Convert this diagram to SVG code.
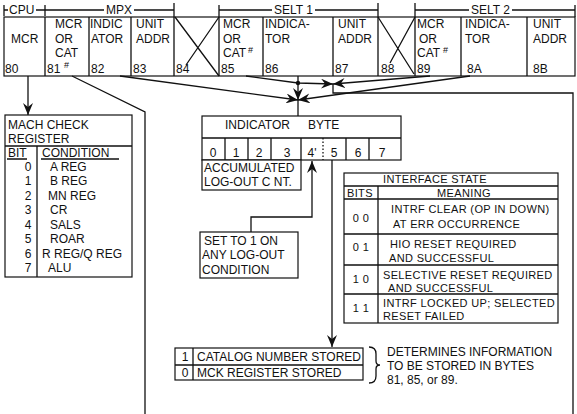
<svg xmlns="http://www.w3.org/2000/svg" width="577" height="414" viewBox="0 0 577 414">
<defs>
<style>
.t{font-family:"Liberation Sans",Arial,sans-serif;font-size:12px;fill:#111}
.s{font-size:9px}
.m{text-anchor:middle}
.r{font-size:11px;letter-spacing:0.35px}
.ln{stroke:#111;stroke-width:1.3;fill:none}
.bx{stroke:#111;stroke-width:1.2;fill:#fff}
</style>
<marker id="ah" viewBox="0 0 12 10" refX="12" refY="5" markerWidth="12" markerHeight="10" markerUnits="userSpaceOnUse" orient="auto">
<path d="M0,0 L12,5 L0,10 L4,5 z" fill="#111"/>
</marker>
</defs>
<rect width="577" height="414" fill="#fff"/>

<g id="header">
<path class="ln" d="M4,5 V16 M4,10 H8 M36,10 H45 M45,5 V16 M45,10 H104 M134,10 H174 M174,3 V17 M219,5 V17 M219,10 H272 M315,10 H378 M378,3 V17 M415,3 V17 M415,10 H469 M512,10 H575 M575,5 V17"/>
<text class="t" x="9" y="14">CPU</text>
<text class="t" x="106" y="14">MPX</text>
<text class="t" x="274" y="14">SELT 1</text>
<text class="t" x="471" y="14">SELT 2</text>
</g>

<g id="register">
<rect class="bx" x="4" y="17" width="571" height="59"/>
<path class="ln" d="M45,17 V76 M89,17 V76 M131,17 V76 M174,17 V76 M219,17 V76 M263,17 V76 M333,17 V76 M378,17 V76 M415,17 V76 M461,17 V76 M527,17 V76"/>
<path class="ln" d="M175,17 L219,76 M219,17 L186,65 M378,17 L414,74 M415,17 L390,63"/>
<text class="t" x="11" y="43">MCR</text><text class="t" x="5" y="73">80</text>
<text class="t" x="55" y="28">MCR</text><text class="t" x="55" y="43">OR</text><text class="t" x="55" y="57">CAT</text><text class="t" x="47" y="73">81</text><text class="t s" x="64" y="68">#</text>
<text class="t" x="90" y="28">INDIC</text><text class="t" x="91" y="43">ATOR</text><text class="t" x="91" y="73">82</text>
<text class="t" x="136" y="28">UNIT</text><text class="t" x="136" y="43">ADDR</text><text class="t" x="133" y="73">83</text>
<text class="t" x="176" y="73">84</text>
<text class="t" x="223" y="28">MCR</text><text class="t" x="223" y="43">OR</text><text class="t" x="223" y="57">CAT</text><text class="t s" x="248" y="53">#</text><text class="t" x="221" y="73">85</text>
<text class="t" x="265" y="28">INDICA-</text><text class="t" x="265" y="43">TOR</text><text class="t" x="265" y="73">86</text>
<text class="t" x="338" y="28">UNIT</text><text class="t" x="338" y="43">ADDR</text><text class="t" x="335" y="73">87</text>
<text class="t" x="381" y="73">88</text>
<text class="t" x="417" y="28">MCR</text><text class="t" x="419" y="43">OR</text><text class="t" x="417" y="57">CAT</text><text class="t s" x="443" y="53">#</text><text class="t" x="417" y="73">89</text>
<text class="t" x="465" y="28">INDICA-</text><text class="t" x="465" y="43">TOR</text><text class="t" x="467" y="73">8A</text>
<text class="t" x="533" y="28">UNIT</text><text class="t" x="533" y="43">ADDR</text><text class="t" x="533" y="73">8B</text>
</g>

<g id="connectors">
<path class="ln" d="M28,76 V115" marker-end="url(#ah)"/>
<path class="ln" d="M72,76 L145,112 V414"/>
<path class="ln" d="M120,76 L298,100" marker-end="url(#ah)"/>
<path class="ln" d="M470,76 L298,100" marker-end="url(#ah)"/>
<path class="ln" d="M298,76 V100" marker-end="url(#ah)"/>
<path class="ln" d="M298,100 V116"/>
<circle cx="298" cy="83" r="2.2" fill="#111"/>
<path class="ln" d="M246,76 L298,83 L333,84" marker-end="url(#ah)"/>
<path class="ln" d="M430,76 L333,84" marker-end="url(#ah)"/>
<path class="ln" d="M333,84 V93 H573 V414"/>
<path class="ln" d="M251,232 V217 H312 V161" marker-end="url(#ah)"/>
<path class="ln" d="M332,160 V347" marker-end="url(#ah)"/>
</g>

<g id="mach-check">
<rect class="bx" x="5" y="115" width="127" height="162"/>
<path class="ln" d="M5,146 H132 M37,146 V277"/>
<text class="t" x="8" y="129">MACH CHECK</text>
<text class="t" x="8" y="143">REGISTER</text>
<text class="t" x="8" y="157">BIT</text>
<text class="t" x="42" y="157">CONDITION</text>
<path class="ln" d="M7,159 H27 M41,159 H119" stroke-width="1"/>
<g class="t m">
<text x="28" y="171">0</text><text x="28" y="185">1</text><text x="28" y="200">2</text><text x="28" y="214">3</text>
<text x="28" y="229">4</text><text x="28" y="243">5</text><text x="28" y="258">6</text><text x="28" y="272">7</text>
</g>
<text class="t" x="50" y="171">A REG</text>
<text class="t" x="50" y="185">B REG</text>
<text class="t" x="48" y="200">MN REG</text>
<text class="t" x="50" y="214">CR</text>
<text class="t" x="50" y="229">SALS</text>
<text class="t" x="50" y="243">ROAR</text>
<text class="t" x="42" y="258">R REG/Q REG</text>
<text class="t" x="48" y="272">ALU</text>
</g>

<g id="indicator-byte">
<rect class="bx" x="202" y="116" width="199" height="44"/>
<path class="ln" d="M202,138 H401 M225,138 V160 M248,138 V160 M271,138 V160 M301,138 V160 M346,138 V160 M369,138 V160"/>
<path class="ln" d="M323,138 V160" stroke-dasharray="1.5 2"/>
<text class="t" x="225" y="129">INDICATOR</text>
<text class="t" x="308" y="129">BYTE</text>
<g class="t m">
<text x="213" y="157">0</text><text x="236" y="157">1</text><text x="259" y="157">2</text><text x="287" y="157">3</text>
<text x="312" y="157">4'</text><text x="334" y="157">5</text><text x="358" y="157">6</text><text x="382" y="157">7</text>
</g>
</g>

<g id="accumulated">
<rect class="bx" x="202" y="160" width="99" height="30"/>
<text class="t" x="204" y="172">ACCUMULATED</text>
<text class="t" x="204" y="186">LOG-OUT C NT.</text>
</g>

<g id="set-to-1">
<rect class="bx" x="200" y="232" width="98" height="46"/>
<text class="t" x="204" y="245">SET TO 1 ON</text>
<text class="t" x="202" y="259">ANY LOG-OUT</text>
<text class="t" x="202" y="274">CONDITION</text>
</g>

<g id="interface-state">
<rect class="bx" x="344" y="173" width="214" height="150"/>
<path class="ln" d="M344,186 H558 M344,199 H558 M344,234 H558 M344,265 H558 M344,294 H558 M378,186 V323"/>
<text class="t r" x="383" y="183">INTERFACE  STATE</text>
<text class="t r" x="347" y="197">BITS</text>
<text class="t r m" x="464" y="197">MEANING</text>
<g class="t r m">
<text x="361" y="222">0 0</text><text x="361" y="251">0 1</text><text x="361" y="283">1 0</text><text x="361" y="312">1 1</text>
</g>
<text class="t r" x="391" y="213">INTRF CLEAR (OP IN DOWN)</text>
<text class="t r" x="393" y="228">AT ERR OCCURRENCE</text>
<text class="t r" x="390" y="248">HIO RESET REQUIRED</text>
<text class="t r" x="389" y="262">AND SUCCESSFUL</text>
<text class="t r" x="383" y="279">SELECTIVE RESET REQUIRED</text>
<text class="t r" x="388" y="292">AND SUCCESSFUL</text>
<text class="t r" x="383" y="307">INTRF LOCKED UP; SELECTED</text>
<text class="t r" x="383" y="320">RESET FAILED</text>
</g>

<g id="catalog">
<rect class="bx" x="175" y="348" width="188" height="32"/>
<path class="ln" d="M175,365 H363 M193,348 V380"/>
<text class="t m" x="185" y="361">1</text>
<text class="t m" x="185" y="377">0</text>
<text class="t" x="197" y="361">CATALOG NUMBER STORED</text>
<text class="t" x="197" y="377">MCK REGISTER STORED</text>
</g>

<g id="note">
<path class="ln" d="M369,347 Q376,347 376,354 V361 Q376,365 380,365 Q376,365 376,369 V376 Q376,383 369,383" stroke-width="1.2"/>
<text class="t" x="387" y="356">DETERMINES INFORMATION</text>
<text class="t" x="387" y="370">TO BE STORED IN BYTES</text>
<text class="t" x="387" y="384">81, 85, or 89.</text>
</g>
</svg>
